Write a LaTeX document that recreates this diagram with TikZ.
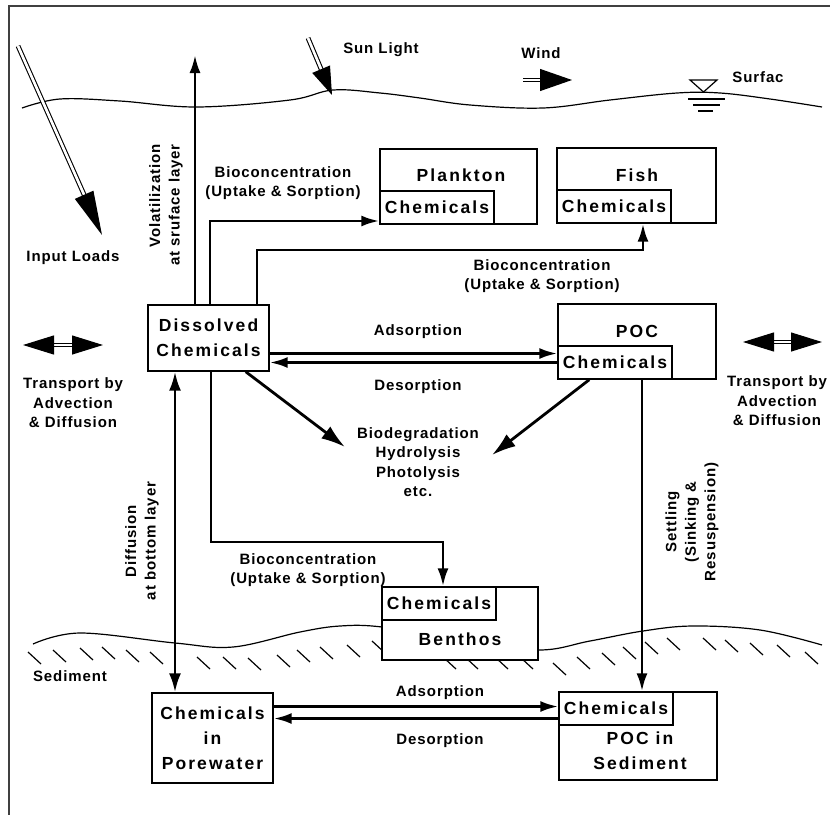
\documentclass[tikz,border=0pt]{standalone}
\usepackage{fontspec}
\newfontfamily\diagfont{Liberation Sans}[LetterSpace=6]
\newfontfamily\boxfont{Liberation Sans}[LetterSpace=12]
\usetikzlibrary{arrows.meta,positioning,calc}
\tikzset{
  compbox/.style={draw=black, fill=white, line width=1.4pt, inner sep=0pt},
  chembox/.style={draw=black, fill=white, line width=1.4pt, inner sep=0pt, minimum width=114pt, minimum height=33pt, font=\boxfont\bfseries\fontsize{17.5}{24}\selectfont},
  boxtext/.style={inner sep=0pt, align=center, font=\boxfont\bfseries\fontsize{17.5}{25}\selectfont},
  lbl/.style={inner sep=0pt, align=center, font=\diagfont\bfseries\fontsize{15}{19.5}\selectfont},
  arrow/.style={-{Latex[length=18pt,width=11pt]}, line width=2.8pt},
  bigarrow/.style={-{Latex[length=24pt,width=15pt]}, line width=2.8pt},
  twoway/.style={{Latex[length=19pt,width=12pt]}-{Latex[length=19pt,width=12pt]}, line width=2.8pt},
  hollowarrow/.style={double, double distance=2.6pt, line width=1.1pt, -{Triangle[length=32pt,width=22pt]}},
  hollowboth/.style={double, double distance=2.6pt, line width=1.1pt, {Triangle[length=31pt,width=19pt]}-{Triangle[length=31pt,width=19pt]}},
  wave/.style={line width=1.2pt},
  hatch/.style={line width=1.2pt},
  frame/.style={line width=1.4pt, black!75}
}

\begin{document}
\begin{tikzpicture}[x=1pt, y=-1pt]
\useasboundingbox (0,0) rectangle (830,817);
% frame
\draw[frame] (830,6) -- (9,6) -- (9,815);

% water surface
\draw[wave] plot[smooth, tension=0.6] coordinates {(22,108) (60,99) (120,101) (197,107) (290,100) (333,90) (380,93) (420,98) (470,105) (543,108) (610,100) (677,93) (720,93) (770,99) (822,107)};
\draw[wave] (690,80) -- (717,80) -- (703.5,92) -- cycle;
\draw[wave] (688,99) -- (725,99) (693,105) -- (720,105) (698,111) -- (713,111);

% sediment bed
\draw[wave] plot[smooth, tension=0.6] coordinates {(33,644) (80,633) (175,643) (233,647) (300,632) (340,626) (382,627) (460,640) (538,650) (590,641) (643,631) (693,626) (760,630) (822,645)};
\foreach \hx/\hy in {28/652, 53/650, 80/648, 102/647, 126/650, 150/652, 197/657, 223/657, 248/658, 277/655, 297/650, 320/647, 347/645, 372/641, 443/657, 465/657, 495/657, 520/657, 553/663, 577/657, 602/653, 623/647, 645/642, 667/638, 703/638, 725/640, 750/643, 777/645, 805/652}
  \draw[hatch] (\hx,\hy) -- ++(13,12);

% compartments
\node[compbox, boxtext, minimum width=121pt, minimum height=66pt] (dissolved) at (208.5,338) {Dissolved\\Chemicals};

\node[compbox, minimum width=157pt, minimum height=75pt] (plankton) at (458.5,186.5) {};
\node[chembox, anchor=south west] (plkchem) at (plankton.south west) {Chemicals};
\node[boxtext] (plktitle) at (461,175) {Plankton};

\node[compbox, minimum width=159pt, minimum height=75pt] (fish) at (636.5,185.5) {};
\node[chembox, anchor=south west] (fishchem) at (fish.south west) {Chemicals};
\node[boxtext] (fishtitle) at (637,175) {Fish};

\node[compbox, minimum width=158pt, minimum height=75pt] (poc) at (637,341.5) {};
\node[chembox, anchor=south west] (pocchem) at (poc.south west) {Chemicals};
\node[boxtext] (poctitle) at (637,331) {POC};

\node[compbox, minimum width=156pt, minimum height=73pt] (benthos) at (460,623.5) {};
\node[chembox, anchor=north west] (benchem) at (benthos.north west) {Chemicals};
\node[boxtext] (bentitle) at (460,639) {Benthos};

\node[compbox, boxtext, minimum width=121pt, minimum height=90pt] (porewater) at (212.5,738) {Chemicals\\in\\Porewater};

\node[compbox, minimum width=158pt, minimum height=88pt] (pocsed) at (638,736) {};
\node[chembox, anchor=north west] (sedchem) at (pocsed.north west) {Chemicals};
\node[boxtext] (sedtitle) at (640,751) {POC in\\Sediment};

% inputs and transport
\coordinate (loadA) at (18,46);
\coordinate (loadB) at (102,235);
\coordinate (sunA) at (308,38);
\coordinate (sunB) at (332,95);
\coordinate (windA) at (523,80);
\coordinate (windB) at (572,80);
\coordinate (trLA) at (23,345);
\coordinate (trLB) at (103,345);
\coordinate (trRA) at (743,342);
\coordinate (trRB) at (822,342);
\draw[hollowarrow, -{Triangle[length=44pt,width=20pt]}] (loadA) -- (loadB);
\draw[hollowarrow, -{Triangle[length=28pt,width=19pt]}] (sunA) -- (sunB);
\draw[hollowarrow] (windA) -- (windB);
\draw[hollowboth] (trLA) -- (trLB);
\draw[hollowboth] (trRA) -- (trRB);

% fluxes
\coordinate (volTop) at (195,55);
\draw[arrow] (volTop |- dissolved.north) -- (volTop);

\coordinate (bcPlk) at (210,221);
\draw[arrow] (bcPlk |- dissolved.north) -- (bcPlk) -- (bcPlk -| plkchem.west);

\coordinate (bcFishA) at (257,250);
\coordinate (bcFishB) at (643,250);
\draw[arrow] (bcFishA |- dissolved.north) -- (bcFishA) -- (bcFishB) -- (bcFishB |- fishchem.south);

\coordinate (adsR) at ($(pocchem.west)+(0,-9)$);
\draw[arrow] (dissolved.east |- adsR) -- (adsR);
\draw[arrow] (pocchem.west) -- (pocchem.west -| dissolved.east);

\coordinate (degL) at (345,447);
\coordinate (degR) at (492,455);
\draw[bigarrow] ($(dissolved.south east)+(-24,0)$) -- (degL);
\draw[bigarrow] ($(pocchem.south west)+(32,0)$) -- (degR);

\coordinate (bcBenA) at (211,542);
\coordinate (bcBenB) at (443,542);
\draw[arrow] (bcBenA |- dissolved.south) -- (bcBenA) -- (bcBenB) -- (bcBenB |- benchem.north);

\coordinate (difX) at (175,500);
\draw[twoway] (difX |- dissolved.south) -- (difX |- porewater.north);

\coordinate (setX) at (642,500);
\draw[arrow] (setX |- pocchem.south) -- (setX |- sedchem.north);

\coordinate (adsB) at ($(sedchem.west)+(0,-2)$);
\coordinate (desB) at ($(sedchem.west)+(0,10)$);
\draw[arrow] (porewater.east |- adsB) -- (adsB);
\draw[arrow] (desB) -- (desB -| porewater.east);

% labels
\node[lbl] (loadlbl) at (73,258) {Input Loads};
\node[lbl] (sunlbl) at (381,50) {Sun Light};
\node[lbl] (windlbl) at (541,53) {Wind};
\node[lbl] (surflbl) at (758,77) {Surfac};
\node[lbl, rotate=90, anchor=east, align=right] (vollbl) at (166,144) {Volatilization\\at sruface layer};
\node[lbl] (bcPlkLbl) at (283,183) {Bioconcentration\\(Uptake \& Sorption)};
\node[lbl] (bcFishLbl) at (542,276) {Bioconcentration\\(Uptake \& Sorption)};
\node[lbl] (bcBenLbl) at (308,570) {Bioconcentration\\(Uptake \& Sorption)};
\node[lbl] (adsLbl) at (418,332) {Adsorption};
\node[lbl] (desLbl) at (418,387) {Desorption};
\node[lbl] (degLbl) at (418,462) {Biodegradation\\Hydrolysis\\Photolysis\\etc.};
\node[lbl] (trLLbl) at (73,403) {Transport by\\Advection\\\& Diffusion};
\node[lbl] (trRLbl) at (777,401) {Transport by\\Advection\\\& Diffusion};
\node[lbl, rotate=90] (difLbl) at (142,541) {Diffusion\\at bottom layer};
\node[lbl, rotate=90] (setLbl) at (692,522) {Settling\\(Sinking \&\\Resuspension)};
\node[lbl] (sedLbl) at (70,676) {Sediment};
\node[lbl] (adsBLbl) at (440,693) {Adsorption};
\node[lbl] (desBLbl) at (440,741) {Desorption};
\end{tikzpicture}
\end{document}
